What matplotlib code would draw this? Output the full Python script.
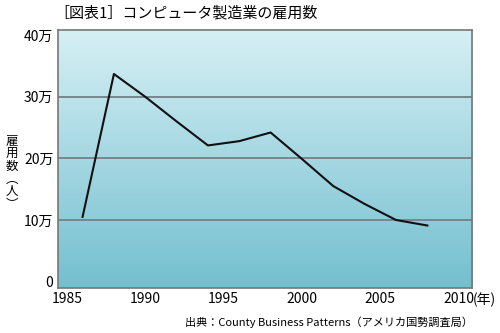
import numpy as np
import matplotlib
matplotlib.use("Agg")
import matplotlib.pyplot as plt
from matplotlib.colors import LinearSegmentedColormap

plt.rcParams['font.family'] = ['Noto Sans CJK JP', 'DejaVu Sans']

years = [1986, 1988, 1990, 1992, 1994, 1996, 1998, 2000, 2002, 2004, 2006, 2008]
employees = [105000, 337000, 300000, 260000, 221000, 228000, 242000, 199000,
             155000, 126000, 100000, 91000]

yticks = [0, 100000, 200000, 300000, 400000]
ytick_labels = ["0", "10万", "20万", "30万", "40万"]
xticks = [1985, 1990, 1995, 2000, 2005, 2010]
xtick_labels = ["1985", "1990", "1995", "2000", "2005", "2010"]

title = "［図表1］コンピュータ製造業の雇用数"
source = "出典：County Business Patterns（アメリカ国勢調査局）"

fig = plt.figure(figsize=(5, 3.33), dpi=100)
ax = fig.add_axes([0.115, 0.135, 0.829, 0.776])

xlim = (1984.4, 2010.85)
ylim = (-10500, 409000)

# gradient background, light at the top
grad = np.linspace(0, 1, 256).reshape(-1, 1)
cmap = LinearSegmentedColormap.from_list("bg", ["#d6f0f5", "#74bfcf"])
ax.imshow(grad, aspect='auto', cmap=cmap, origin='upper',
          extent=[xlim[0], xlim[1], ylim[0], ylim[1]], zorder=0)

for v in yticks[1:4]:
    ax.axhline(v, color="#76878d", lw=1.4, zorder=1)

ax.plot(years, employees, color="#111111", lw=1.5, zorder=3)

ax.set_xlim(xlim)
ax.set_ylim(ylim)
ax.set_yticks(yticks)
ax.set_yticklabels(ytick_labels)
ax.set_xticks(xticks)
ax.set_xticklabels(xtick_labels)
ax.tick_params(length=0, labelsize=10, pad=3)
for s in ax.spines.values():
    s.set_color("#777777")
    s.set_linewidth(1.2)

ax.annotate("(年)", xy=(2010, 0), xycoords=('data', 'axes fraction'),
            xytext=(10, -3), textcoords='offset points', ha='left', va='top',
            fontsize=10)

fig.text(0.108, 0.962, title, fontsize=10.8, ha='left', va='center')
fig.text(0.012, 0.48, "雇\n用\n数\n︵\n人\n︶", fontsize=9, ha='left', va='center',
         linespacing=0.95)
fig.text(0.946, 0.033, source, fontsize=8, ha='right', va='center')

fig.savefig("out.png", dpi=100)
